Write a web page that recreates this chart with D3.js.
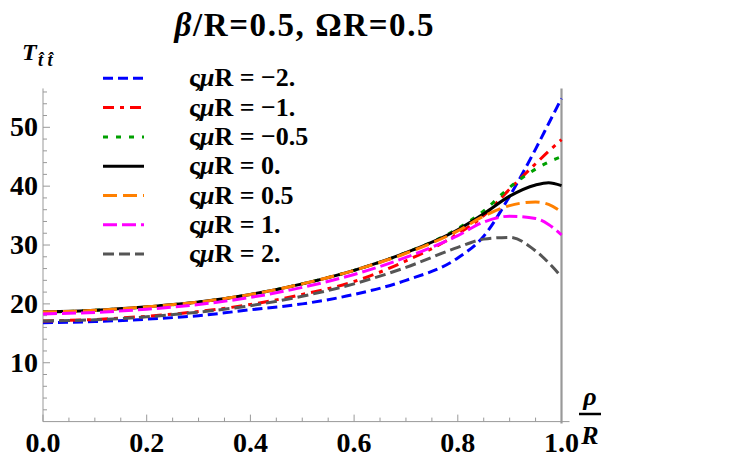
<!DOCTYPE html>
<html>
<head>
<meta charset="utf-8">
<script src="https://cdnjs.cloudflare.com/ajax/libs/d3/7.8.5/d3.min.js"></script>
<style>
  body { margin: 0; background: white; }
  text { font-family: "Liberation Serif", "Times New Roman", serif; font-weight: bold; }
</style>
</head>
<body>
<script>

// rho/R sample points
var rhoValues = [0, 0.1, 0.2, 0.3, 0.4, 0.5, 0.6, 0.7, 0.8, 0.85, 0.9, 0.95, 0.975, 1.0];

// T_tt, one list per curve
var tMinus2  = [16.8, 17.0, 17.4, 18.0, 19.0, 20.0, 21.6, 24.0, 27.8, 31.5, 38.3, 46.3, 50.6, 54.9];
var tMinus1  = [17.1, 17.35, 17.9, 18.7, 19.9, 21.6, 23.8, 27.3, 31.9, 35.0, 39.5, 43.8, 45.9, 47.9];
var tMinus05 = [18.6, 18.9, 19.5, 20.3, 21.6, 23.4, 25.7, 28.7, 32.8, 35.8, 39.8, 42.9, 44.1, 45.0];
var tZero    = [18.6, 18.9, 19.5, 20.3, 21.6, 23.4, 25.7, 28.7, 32.6, 35.3, 38.3, 40.2, 40.6, 40.1];
var tPlus05  = [18.6, 18.9, 19.5, 20.3, 21.6, 23.4, 25.7, 28.6, 32.4, 34.9, 36.7, 37.3, 36.9, 35.6];
var tPlus1   = [18.3, 18.55, 19.1, 19.9, 21.1, 22.8, 25.0, 27.9, 31.6, 33.9, 34.9, 34.5, 33.5, 31.7];
var tPlus2   = [17.1, 17.3, 17.8, 18.6, 19.7, 21.3, 23.4, 26.2, 29.6, 31.0, 31.3, 29.0, 27.0, 24.6];

var labels = ["\u2212" + "2.", "\u2212" + "1.", "\u2212" + "0.5", "0.", "0.5", "1.", "2."];
var series = [tMinus2, tMinus1, tMinus05, tZero, tPlus05, tPlus1, tPlus2];
var colors = ["#0000ff", "#ff0000", "#00a000", "#000000", "#ff8000", "#ff00ff", "#555555"];
var dashes = ["10,5", "11,6,4,6", "5,8", null, "14,6", "14,5", "11,5"];

var xTicks = [0, 0.2, 0.4, 0.6, 0.8, 1.0];
var yTicks = [10, 20, 30, 40, 50];

var width = 747, height = 465;

var svg = d3.select("body").append("svg")
    .attr("width", width)
    .attr("height", height);

var x = d3.scaleLinear().domain([0, 1]).range([43, 561.5]);
var y = d3.scaleLinear().domain([0, 50]).range([421.6, 127.3]);
var yTop = 56.6;
var axisColor = "#999999";

// title
svg.append("text")
    .attr("x", 304)
    .attr("y", 36)
    .attr("text-anchor", "middle")
    .attr("font-size", "33px")
    .attr("textLength", 259)
    .html("<tspan font-style='italic'>\u03b2</tspan>/R=0.5, \u03a9R=0.5");

// x axis with minor ticks
var xAxis = svg.append("g").attr("transform", "translate(0," + y(0) + ")");
xAxis.append("line")
    .attr("x1", x(0)).attr("x2", x(1) + 8)
    .attr("stroke", axisColor).attr("stroke-width", 1);
xAxis.selectAll(".minor").data(d3.range(0, 1.0001, 0.05))
  .enter().append("line")
    .attr("x1", function(d){ return x(d); })
    .attr("x2", function(d){ return x(d); })
    .attr("y1", 0)
    .attr("y2", function(d){ return Math.abs(d * 5 - Math.round(d * 5)) < 1e-6 ? -7 : -4; })
    .attr("stroke", axisColor).attr("stroke-width", 1);
xAxis.selectAll(".lab").data(xTicks)
  .enter().append("text")
    .attr("x", function(d){ return x(d); })
    .attr("y", 30)
    .attr("text-anchor", "middle")
    .attr("font-size", "28px")
    .text(function(d){ return d.toFixed(1); });

// y axis with minor ticks
var yAxis = svg.append("g").attr("transform", "translate(" + x(0) + ",0)");
yAxis.append("line")
    .attr("y1", y(0)).attr("y2", y(yTop))
    .attr("stroke", axisColor).attr("stroke-width", 1);
yAxis.selectAll(".minor").data(d3.range(2, 57, 2))
  .enter().append("line")
    .attr("y1", function(d){ return y(d); })
    .attr("y2", function(d){ return y(d); })
    .attr("x1", 0)
    .attr("x2", function(d){ return d % 10 == 0 ? 7 : 4; })
    .attr("stroke", axisColor).attr("stroke-width", 1);
yAxis.selectAll(".lab").data(yTicks)
  .enter().append("text")
    .attr("x", -5)
    .attr("y", function(d){ return y(d) + 9; })
    .attr("text-anchor", "end")
    .attr("font-size", "28px")
    .text(function(d){ return d; });

// boundary line at rho = R
svg.append("line")
    .attr("x1", x(1)).attr("x2", x(1))
    .attr("y1", y(0) + 2).attr("y2", y(yTop))
    .attr("stroke", axisColor).attr("stroke-width", 2.2);

// curves
var line = d3.line()
    .x(function(d, i){ return x(rhoValues[i]); })
    .y(function(d){ return y(d); })
    .curve(d3.curveMonotoneX);

series.forEach(function(s, i){
  svg.append("path")
      .attr("d", line(s))
      .attr("fill", "none")
      .attr("stroke", colors[i])
      .attr("stroke-width", 3)
      .attr("stroke-dasharray", dashes[i]);
});

// legend
series.forEach(function(s, i){
  var ly = 78.3 + i * 29.3;
  svg.append("line")
      .attr("x1", 103).attr("x2", 144)
      .attr("y1", ly).attr("y2", ly)
      .attr("stroke", colors[i])
      .attr("stroke-width", 3)
      .attr("stroke-dasharray", dashes[i]);
  svg.append("text")
      .attr("x", 189)
      .attr("y", ly + 8)
      .attr("font-size", "26px")
      .html("\u03c2<tspan font-style='italic'>\u03bc</tspan>R = " + labels[i]);
});

// axis labels
svg.append("text").attr("x", 22).attr("y", 60).attr("font-size", "24px").attr("font-style", "italic").text("T");
svg.append("text").attr("x", 38).attr("y", 66).attr("font-size", "18px").attr("font-style", "italic")
    .text("t\u0302 t\u0302");

svg.append("text").attr("x", 590).attr("y", 405).attr("text-anchor", "middle")
    .attr("font-size", "26px").attr("font-style", "italic").text("\u03c1");
svg.append("line").attr("x1", 579).attr("x2", 601).attr("y1", 414).attr("y2", 414)
    .attr("stroke", "black").attr("stroke-width", 2.5);
svg.append("text").attr("x", 590).attr("y", 444).attr("text-anchor", "middle")
    .attr("font-size", "26px").attr("font-style", "italic").text("R");

</script>
</body>
</html>
